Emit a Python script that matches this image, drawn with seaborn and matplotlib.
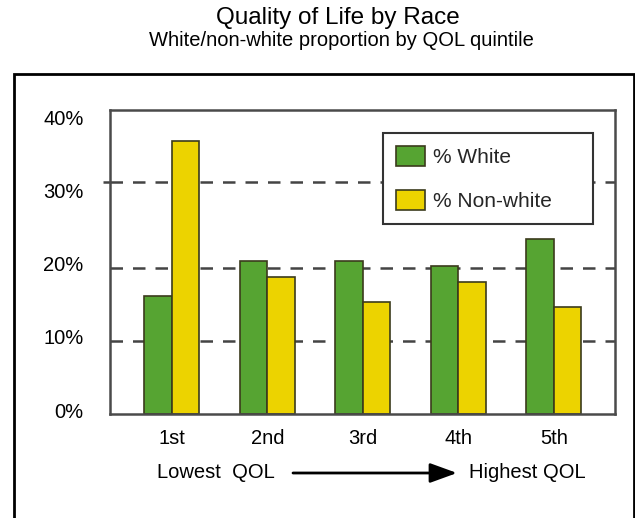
import matplotlib
matplotlib.use("Agg")
import matplotlib.pyplot as plt
import matplotlib.transforms as mtransforms
import seaborn as sns
import pandas as pd
from matplotlib.patches import Rectangle, FancyArrowPatch

# Share of each group falling in each quality-of-life quintile (%)
quintiles = ["1st", "2nd", "3rd", "4th", "5th"]
pct_white = [16.1, 20.9, 20.9, 20.3, 23.9]
pct_nonwhite = [37.3, 18.8, 15.3, 18.0, 14.6]
series_names = ["% White", "% Non-white"]
y_ticks = [0, 10, 20, 30, 40]
y_tick_labels = ["0%", "10%", "20%", "30%", "40%"]

df = pd.DataFrame({
    "quintile": quintiles * 2,
    "group": [series_names[0]] * len(quintiles) + [series_names[1]] * len(quintiles),
    "value": pct_white + pct_nonwhite,
})

sns.set_theme(style="white")
plt.rcParams["font.family"] = ["Liberation Sans", "DejaVu Sans"]

W, H = 635, 518
fig = plt.figure(figsize=(W / 100, H / 100), dpi=100)
fig.patch.set_facecolor("white")

# axes box in pixel terms
ax_left, ax_right, ax_top, ax_bottom = 110, 615, 110, 414
ax = fig.add_axes([ax_left / W, 1 - ax_bottom / H,
                   (ax_right - ax_left) / W, (ax_bottom - ax_top) / H])
ax.set_facecolor("white")

sns.barplot(
    data=df, x="quintile", y="value", hue="group",
    palette=["#56a432", "#ecd300"], saturation=1, width=0.576,
    edgecolor="#3b3b1c", linewidth=1.2, errorbar=None, ax=ax, zorder=3,
)

# dashed guide lines, with short stubs poking out past the left spine
guide_levels = [10, 20, 31.7]
for lvl in guide_levels:
    ax.axhline(lvl, color="#444444", lw=1.8, ls=(0, (5, 4)), zorder=1)
ax.set_yticks(guide_levels, minor=True)
ax.tick_params(axis="y", which="minor", length=5, width=1.8, color="#444444",
               direction="out", left=True)

ax.set_xlim(-0.649, 4.64)
ax.set_ylim(0, 41.6)
ax.set_yticks(y_ticks)
ax.set_yticklabels(y_tick_labels)
ax.set_xlabel("")
ax.set_ylabel("")
ax.tick_params(axis="y", which="major", length=0, pad=19, labelsize=14.5, colors="black")
ax.tick_params(axis="x", length=0, pad=11, labelsize=14.5, colors="black")
# percent labels sit a little above their levels
lift = mtransforms.ScaledTranslation(0, 4 / 100, fig.dpi_scale_trans)
for lab in ax.get_yticklabels():
    lab.set_transform(lab.get_transform() + lift)
for sp in ax.spines.values():
    sp.set_visible(True)
    sp.set_color("#4a4a4a")
    sp.set_linewidth(1.8)
    sp.set_zorder(4)

# legend box
lx0, lx1, ly0, ly1 = 383, 593, 133, 226
sns.move_legend(
    ax, "upper left",
    bbox_to_anchor=((lx0 - ax_left) / (ax_right - ax_left),
                    (ax_bottom - ly1) / (ax_bottom - ax_top),
                    (lx1 - lx0) / (ax_right - ax_left),
                    (ly1 - ly0) / (ax_bottom - ax_top)),
    mode="expand", borderaxespad=0, title="", fontsize=15,
    frameon=True, fancybox=False, framealpha=1, edgecolor="#333333",
    handlelength=1.4, handleheight=1.15, handletextpad=0.4,
    labelspacing=1.1, borderpad=0.6,
)
leg = ax.get_legend()
leg.get_frame().set_linewidth(1.5)
leg.set_zorder(5)

# titles
fig.text(338 / W, 1 - 18 / H, "Quality of Life by Race", ha="center", va="center",
         fontsize=17.5, color="black")
fig.text(341 / W, 1 - 40 / H, "White/non-white proportion by QOL quintile",
         ha="center", va="center", fontsize=14.5, color="black")

# direction note under the categories
fig.text(216 / W, 1 - 473 / H, "Lowest  QOL", ha="center", va="center",
         fontsize=14.5, color="black")
fig.text(527 / W, 1 - 473 / H, "Highest QOL", ha="center", va="center",
         fontsize=14.5, color="black")
fig.add_artist(FancyArrowPatch(
    (293 / W, 1 - 473 / H), (457 / W, 1 - 473 / H), transform=fig.transFigure,
    arrowstyle="-|>,head_length=0.55,head_width=0.2", mutation_scale=30,
    lw=2, color="black", shrinkA=0, shrinkB=0,
))

# outer frame around the chart
fig.add_artist(Rectangle((14 / W, -0.05), (634 - 14) / W, (1 - 74 / H) + 0.05,
                         transform=fig.transFigure, fill=False, lw=2, ec="black"))

fig.savefig("out.png", dpi=100)
